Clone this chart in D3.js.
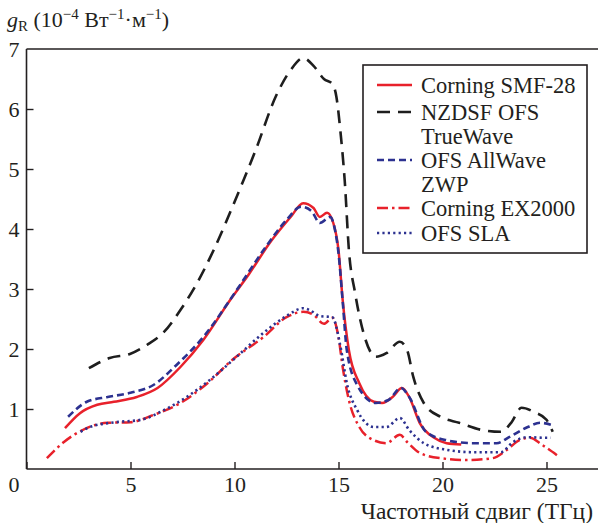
<!DOCTYPE html>
<html><head><meta charset="utf-8">
<script src="https://cdn.jsdelivr.net/npm/d3@7"></script>
<style>
body{margin:0;background:#fff;}
svg{display:block;}
</style></head>
<body>
<svg id="c" width="598" height="523"></svg>
<script>
// ---- data ----
const xTicks = [0, 5, 10, 15, 20, 25];
const yTicks = [1, 2, 3, 4, 5, 6, 7];
const seriesNames = ["Corning SMF-28", "NZDSF OFS TrueWave", "OFS AllWave ZWP", "Corning EX2000", "OFS SLA"];
const legendLines = [["Corning SMF-28"], ["NZDSF OFS", "TrueWave"], ["OFS AllWave", "ZWP"], ["Corning EX2000"], ["OFS SLA"]];

const smfX = [1.85, 2.57, 3.4, 4.2, 5.3, 6.3, 7.4, 8.5, 9.8, 10.7, 11.7, 12.7, 13.3, 13.8, 14.1, 14.45, 14.75, 15.0, 15.2, 15.5, 16.0, 16.7, 17.1, 17.6, 18.05, 18.4, 18.9, 19.6, 20.2, 20.9];
const smfY = [0.68, 0.93, 1.07, 1.12, 1.2, 1.35, 1.7, 2.15, 2.82, 3.25, 3.77, 4.2, 4.43, 4.35, 4.2, 4.27, 4.1, 3.65, 2.82, 1.98, 1.43, 1.12, 1.1, 1.2, 1.35, 1.2, 0.77, 0.52, 0.43, 0.41];

const twX = [3.0, 4.0, 5.0, 5.8, 6.6, 7.4, 8.2, 9.0, 10.0, 11.0, 12.0, 12.7, 13.3, 13.8, 14.3, 14.7, 14.9, 15.1, 15.3, 15.5, 15.8, 16.2, 16.8, 17.3, 17.95, 18.3, 18.6, 19.1, 19.9, 20.8, 21.9, 22.8, 23.3, 23.8, 24.4, 25.0, 25.3];
const twY = [1.68, 1.85, 1.92, 2.07, 2.28, 2.65, 3.1, 3.65, 4.45, 5.3, 6.22, 6.65, 6.85, 6.72, 6.5, 6.42, 6.2, 5.6, 4.8, 3.65, 2.93, 2.27, 1.87, 1.93, 2.12, 1.98, 1.53, 1.1, 0.87, 0.77, 0.65, 0.62, 0.77, 1.02, 0.95, 0.82, 0.62];

const awX = [2.0, 2.9, 3.9, 5.0, 6.1, 7.2, 8.5, 10.1, 11.5, 12.5, 13.2, 13.7, 14.1, 14.6, 14.85, 15.0, 15.2, 15.4, 15.9, 16.8, 17.4, 18.0, 18.4, 19.2, 20.2, 21.5, 22.6, 23.2, 24.1, 24.7, 25.3];
const awY = [0.87, 1.12, 1.2, 1.27, 1.4, 1.73, 2.2, 2.98, 3.7, 4.15, 4.37, 4.3, 4.1, 4.2, 3.95, 3.6, 2.8, 1.98, 1.4, 1.1, 1.15, 1.35, 1.2, 0.62, 0.48, 0.43, 0.43, 0.53, 0.7, 0.77, 0.73];

const exX = [0.98, 1.8, 2.7, 3.9, 5.0, 6.1, 7.4, 8.7, 9.9, 11.4, 12.5, 13.3, 13.8, 14.3, 14.7, 15.0, 15.2, 15.5, 16.0, 16.7, 17.3, 17.95, 18.3, 18.9, 19.9, 21.2, 22.4, 23.1, 23.7, 24.2, 24.8, 25.5];
const exY = [0.18, 0.45, 0.65, 0.77, 0.78, 0.9, 1.1, 1.43, 1.82, 2.2, 2.53, 2.62, 2.57, 2.42, 2.52, 2.2, 1.7, 1.15, 0.7, 0.48, 0.43, 0.57, 0.45, 0.27, 0.18, 0.15, 0.18, 0.32, 0.48, 0.52, 0.4, 0.23];

const slaX = [2.6, 3.05, 4.3, 5.5, 6.6, 7.7, 8.8, 10.1, 11.4, 12.5, 13.3, 13.6, 14.1, 14.7, 15.1, 15.4, 15.9, 16.7, 17.3, 17.95, 18.4, 19.1, 20.2, 21.5, 22.8, 23.4, 24.1, 25.0, 25.2];
const slaY = [0.62, 0.7, 0.78, 0.82, 0.98, 1.2, 1.48, 1.87, 2.27, 2.55, 2.68, 2.65, 2.55, 2.53, 2.03, 1.43, 0.98, 0.7, 0.7, 0.85, 0.65, 0.43, 0.32, 0.28, 0.28, 0.45, 0.53, 0.52, 0.52];

const seriesX = [smfX, twX, awX, exX, slaX];
const seriesY = [smfY, twY, awY, exY, slaY];

// ---- styles ----
const FONT = '"Liberation Serif"';
const styles = [
  {color: "#e8212b", dash: null, width: 2.5},
  {color: "#1e1e1e", dash: "13,8", width: 2.6},
  {color: "#2c3190", dash: "7,4", width: 2.6},
  {color: "#e8212b", dash: "11,4,2.5,4", width: 2.5},
  {color: "#2c3190", dash: "2.2,3.2", width: 2.6}
];

const svg = d3.select("#c");
const x = d3.scaleLinear().domain([0, 27.5]).range([26.5, 598.5]);
const y = d3.scaleLinear().domain([0, 7]).range([469, 49]);

const axisCol = "#231f20";
svg.append("line").attr("x1", x(0)).attr("x2", 600).attr("y1", y(7)).attr("y2", y(7)).attr("stroke", axisCol).attr("stroke-width", 1.6);

function serif(sel, size) {
  return sel.attr("font-family", "Liberation Serif").style("font-family", FONT).style("font-size", size + "px").attr("fill", axisCol);
}

// x axis
const gx = svg.append("g").attr("transform", `translate(0,${y(0)})`)
  .call(d3.axisBottom(x).tickValues(xTicks).tickSize(-7).tickPadding(7).tickFormat(d3.format("d")));
gx.attr("font-family", null);
gx.select(".domain").attr("d", `M${x(0)},0H600`).attr("stroke", axisCol).attr("stroke-width", 1.6);
gx.selectAll(".tick line").attr("stroke", axisCol).attr("stroke-width", 1.4);
serif(gx.selectAll(".tick text"), 22);
gx.selectAll(".tick").filter(d => d === 0).select("text").attr("dx", -13);

// y axis
const gy = svg.append("g").attr("transform", `translate(${x(0)},0)`)
  .call(d3.axisLeft(y).tickValues(yTicks).tickSize(-7).tickPadding(7).tickFormat(d3.format("d")));
gy.attr("font-family", null);
gy.select(".domain").attr("d", `M0,${y(7)}V${y(0)}`).attr("stroke", axisCol).attr("stroke-width", 1.6);
gy.selectAll(".tick line").attr("stroke", axisCol).attr("stroke-width", 1.4);
gy.selectAll(".tick").filter(d => d === 7).select("line").remove();
serif(gy.selectAll(".tick text"), 22).attr("dy", "0.34em");

// curves
const line = d3.line().x(d => x(d[0])).y(d => y(d[1])).curve(d3.curveMonotoneX);
seriesX.forEach((xs, i) => {
  const pts = xs.map((v, j) => [v, seriesY[i][j]]);
  const p = svg.append("path").datum(pts).attr("d", line)
    .attr("fill", "none").attr("stroke", styles[i].color)
    .attr("stroke-width", styles[i].width).attr("stroke-linejoin", "round");
  if (styles[i].dash) p.attr("stroke-dasharray", styles[i].dash);
});

// legend
const lg = svg.append("g");
lg.append("rect").attr("x", 363).attr("y", 65).attr("width", 224).attr("height", 188)
  .attr("fill", "#fff").attr("stroke", axisCol).attr("stroke-width", 1.6);
const rowY = [85, 112, 160, 208, 233];
legendLines.forEach((lines, i) => {
  const ly = rowY[i];
  const l = lg.append("line").attr("x1", 377).attr("x2", 412).attr("y1", ly).attr("y2", ly)
    .attr("stroke", styles[i].color).attr("stroke-width", styles[i].width);
  if (styles[i].dash) l.attr("stroke-dasharray", styles[i].dash);
  lines.forEach((t, k) => {
    serif(lg.append("text").attr("x", 421).attr("y", ly + k * 24).attr("dy", "0.34em"), 22.5).text(t);
  });
});

// y title
const yt = serif(svg.append("text").attr("x", 7).attr("y", 27), 22);
yt.append("tspan").attr("font-style", "italic").text("g");
yt.append("tspan").style("font-size", "15px").attr("dy", 4).text("R");
yt.append("tspan").attr("dy", -4).text(" (10");
yt.append("tspan").style("font-size", "15px").attr("dy", -8).text("−4");
yt.append("tspan").attr("dy", 8).text(" Вт");
yt.append("tspan").style("font-size", "15px").attr("dy", -8).text("−1");
yt.append("tspan").attr("dy", 8).text("·м");
yt.append("tspan").style("font-size", "15px").attr("dy", -8).text("−1");
yt.append("tspan").attr("dy", 8).text(")");

// x title
serif(svg.append("text").attr("x", 593).attr("y", 519).attr("text-anchor", "end"), 23.5).text("Частотный сдвиг (ТГц)");
</script>
</body></html>
